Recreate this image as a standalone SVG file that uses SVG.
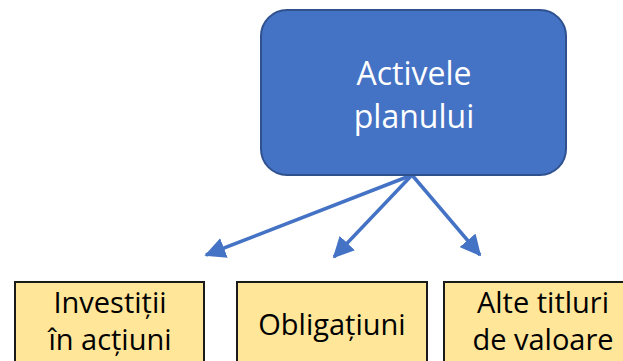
<svg xmlns="http://www.w3.org/2000/svg" width="623" height="361" viewBox="0 0 623 361">
<style>
.top{fill:#4472C4;stroke:#2F528F;stroke-width:2}
.leaf{fill:#FFE699;stroke:#1a1a1a;stroke-width:2}
.tw{font-family:"Open Sans","Noto Sans",sans-serif;font-size:32px;fill:#fff;text-anchor:middle}
.tb{font-family:"Open Sans","Noto Sans",sans-serif;font-size:29px;fill:#000;text-anchor:middle}
.con{stroke:#4472C4;stroke-width:3.5;fill:none;marker-end:url(#ah)}
</style>
<defs>
<marker id="ah" markerWidth="6" markerHeight="6" refX="5.5" refY="3" orient="auto" markerUnits="strokeWidth">
<path d="M0,0 L6,3 L0,6 z" fill="#4472C4"/>
</marker>
</defs>
<g id="connectors">
<line class="con" x1="412" y1="175" x2="206" y2="255"/>
<line class="con" x1="412" y1="175" x2="334" y2="257"/>
<line class="con" x1="412" y1="175" x2="480" y2="255"/>
</g>
<g id="activele">
<rect class="top" x="261" y="10" width="305" height="165" rx="26"/>
<text class="tw" x="414" y="85">Activele</text>
<text class="tw" x="414" y="128">planului</text>
</g>
<g id="investitii">
<rect class="leaf" x="15" y="282" width="189" height="90"/>
<text class="tb" x="110" y="313">Investiții</text>
<text class="tb" x="110" y="350">în acțiuni</text>
</g>
<g id="obligatiuni">
<rect class="leaf" x="237" y="282" width="190" height="90"/>
<text class="tb" x="332" y="335">Obligațiuni</text>
</g>
<g id="alte">
<rect class="leaf" x="444" y="282" width="196" height="90"/>
<text class="tb" x="543" y="313">Alte titluri</text>
<text class="tb" x="543" y="350">de valoare</text>
</g>
</svg>
